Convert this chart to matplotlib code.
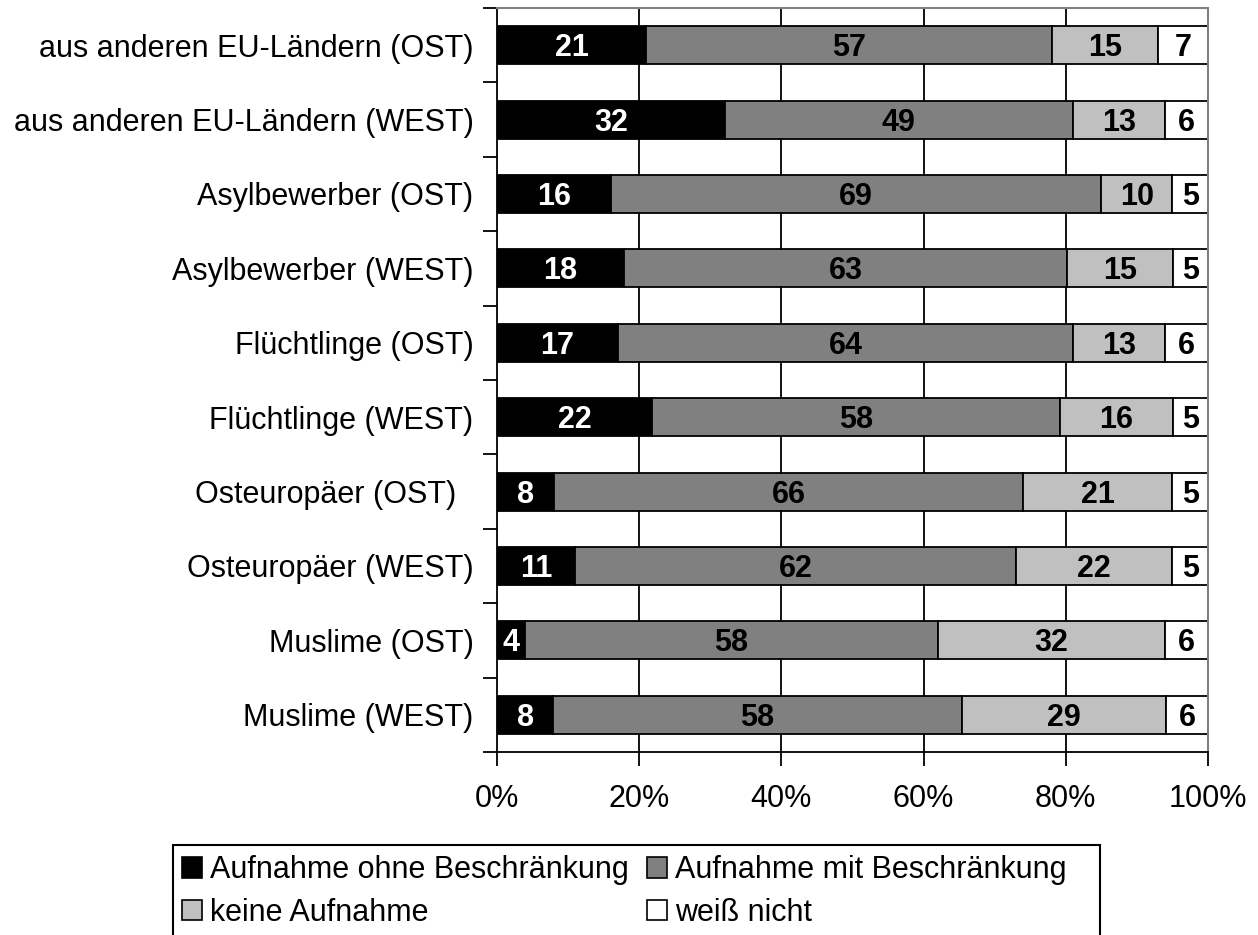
import numpy as np
import matplotlib
matplotlib.use("Agg")
import matplotlib.pyplot as plt
import matplotlib.transforms as mtransforms
from matplotlib.patches import Patch, Rectangle

plt.rcParams['font.family'] = ['Liberation Sans', 'DejaVu Sans']

# Kategorien (von oben nach unten)
kategorien = [
    "aus anderen EU-Ländern (OST)",
    "aus anderen EU-Ländern (WEST)",
    "Asylbewerber (OST)",
    "Asylbewerber (WEST)",
    "Flüchtlinge (OST)",
    "Flüchtlinge (WEST)",
    "Osteuropäer (OST)  ",
    "Osteuropäer (WEST)",
    "Muslime (OST)",
    "Muslime (WEST)",
]

ohne_beschraenkung = [21, 32, 16, 18, 17, 22, 8, 11, 4, 8]
mit_beschraenkung = [57, 49, 69, 63, 64, 58, 66, 62, 58, 58]
keine_aufnahme = [15, 13, 10, 15, 13, 16, 21, 22, 32, 29]
weiss_nicht = [7, 6, 5, 5, 6, 5, 5, 5, 6, 6]

serien = ["Aufnahme ohne Beschränkung", "Aufnahme mit Beschränkung",
          "keine Aufnahme", "weiß nicht"]
farben = ["#000000", "#808080", "#C0C0C0", "#FFFFFF"]
textfarben = ["white", "black", "black", "black"]

werte = np.array([ohne_beschraenkung, mit_beschraenkung, keine_aufnahme, weiss_nicht], dtype=float)
anteile = werte / werte.sum(axis=0) * 100  # 100%-gestapelt wie in Excel

fig = plt.figure(figsize=(12.58, 9.35), dpi=100)
ax = fig.add_axes([497/1258, 1 - 752/935, (1208-497)/1258, (752-8)/935])

n = len(kategorien)
y = np.arange(n)[::-1]

# Gitterlinien
for gx in [20, 40, 60, 80]:
    ax.axvline(gx, color='black', lw=1.3, zorder=0)

# Zahlen leicht nach unten versetzt, damit die Ziffern mittig sitzen
versatz = ax.transData + mtransforms.ScaledTranslation(0, -3/100, fig.dpi_scale_trans)

links = np.zeros(n)
for i in range(4):
    ax.barh(y, anteile[i], left=links, height=0.51, color=farben[i],
            edgecolor='black', linewidth=1.3, zorder=2)
    for j in range(n):
        ax.text(links[j] + anteile[i][j] / 2, y[j], f"{int(werte[i][j])}",
                ha='center', va='center', fontsize=22, fontweight='bold',
                color=textfarben[i], zorder=3, transform=versatz)
    links += anteile[i]

ax.set_xlim(0, 100)
ax.set_ylim(-0.5, n - 0.5)

ax.set_xticks([0, 20, 40, 60, 80, 100])
ax.set_xticklabels([f"{v}%" for v in [0, 20, 40, 60, 80, 100]], fontsize=22)
ax.tick_params(axis='x', direction='out', length=10, width=1.3, pad=13)

ax.set_yticks(np.arange(n + 1) - 0.5)
ax.set_yticklabels([])
ax.set_yticks(y, minor=True)
ax.set_yticklabels(kategorien, minor=True, fontsize=22)
ax.tick_params(axis='y', which='major', direction='out', length=10, width=1.3)
ax.tick_params(axis='y', which='minor', length=0, pad=17)

for s in ['left', 'bottom']:
    ax.spines[s].set_color('black')
    ax.spines[s].set_linewidth(1.3)
for s in ['top', 'right']:
    ax.spines[s].set_color('#808080')
    ax.spines[s].set_linewidth(1.5)

# Legende
handles = [Patch(facecolor=farben[i], edgecolor='black', linewidth=1.2) for i in range(4)]
reihenfolge = [0, 2, 1, 3]
fig.legend([handles[i] for i in reihenfolge], [serien[i] for i in reihenfolge],
           ncol=2, loc='upper left', bbox_to_anchor=(182/1258, 1 - 855/935),
           frameon=False, fontsize=22, borderpad=0, borderaxespad=0,
           handlelength=0.66, handleheight=0.66, handletextpad=0.25,
           columnspacing=0.6, labelspacing=0.42)
fig.patches.append(Rectangle((173/1258, -0.01), (1100-173)/1258, (935-845)/935 + 0.01,
                             transform=fig.transFigure, fill=False,
                             edgecolor='black', linewidth=1.5))

fig.savefig("out.png", dpi=100)
